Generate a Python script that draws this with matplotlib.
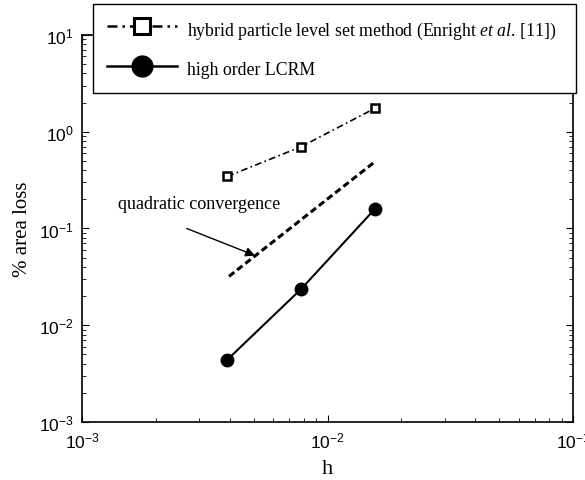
import matplotlib
matplotlib.use('Agg')
import matplotlib.pyplot as plt
from matplotlib.lines import Line2D
from matplotlib.ticker import LogLocator, NullFormatter

# grid spacing h and % area loss
h = [1/256, 1/128, 1/64]
hybrid_loss = [0.345, 0.70, 1.75]
lcrm_loss = [0.0044, 0.0237, 0.160]

# quadratic reference line
quad_h = [0.00397, 0.0156]
quad_loss = [0.032, 0.49]

hybrid_label = 'hybrid particle level set method (Enright $\\it{et\\ al}$. [11])'
lcrm_label = 'high order LCRM'

plt.rcParams['mathtext.default'] = 'regular'
plt.rcParams['mathtext.fontset'] = 'custom'
plt.rcParams['mathtext.it'] = 'Liberation Serif:italic'
plt.rcParams['mathtext.rm'] = 'Liberation Serif'

fig = plt.figure(figsize=(5.85, 4.81), dpi=100)
ax = fig.add_axes([0.1402, 0.1206, 0.8393, 0.8046])

ax.plot(h, hybrid_loss, color='black', lw=1.2, linestyle=(0, (4, 2, 1, 2)),
        marker='s', markersize=6, markerfacecolor='white', markeredgewidth=1.8)
ax.plot(h, lcrm_loss, color='black', lw=1.5, marker='o', markersize=9)
ax.plot(quad_h, quad_loss, color='black', lw=2.2, linestyle=(0, (2.2, 1.2)))

ax.set_xscale('log')
ax.set_yscale('log')
ax.set_xlim(1e-3, 1e-1)
ax.set_ylim(1e-3, 1e1)

ax.text(0.0014, 0.18, 'quadratic convergence', fontsize=13,
        family='Liberation Serif', va='center', ha='left')
ax.annotate('', xy=(0.00507, 0.0525), xytext=(0.00267, 0.1),
            arrowprops=dict(arrowstyle='-|>', color='black', lw=1.0,
                            mutation_scale=14, shrinkA=0, shrinkB=0))

ax.xaxis.set_major_locator(LogLocator(base=10, numticks=10))
ax.yaxis.set_major_locator(LogLocator(base=10, numticks=10))
ax.xaxis.set_minor_locator(LogLocator(base=10, subs=range(2, 10), numticks=20))
ax.yaxis.set_minor_locator(LogLocator(base=10, subs=range(2, 10), numticks=20))
ax.xaxis.set_minor_formatter(NullFormatter())
ax.yaxis.set_minor_formatter(NullFormatter())
ax.tick_params(which='both', direction='in', top=True, right=True)
ax.tick_params(which='major', length=5, width=0.8, labelsize=12.5, pad=6)
ax.tick_params(which='minor', length=3, width=0.6)
for lab in ax.get_xticklabels() + ax.get_yticklabels():
    lab.set_family('Liberation Sans')
for s in ax.spines.values():
    s.set_linewidth(1.2)

ax.set_xlabel('h', family='Liberation Serif', fontsize=16, labelpad=6)
ax.set_ylabel('% area loss', family='Liberation Serif', fontsize=15, labelpad=5)

handles = [
    Line2D([], [], color='black', lw=1.8, linestyle=(0, (4, 2, 1, 2)),
           marker='s', markersize=11, markerfacecolor='white', markeredgewidth=2.2),
    Line2D([], [], color='black', lw=1.8, marker='o', markersize=15),
]
leg = fig.legend(handles, [hybrid_label, lcrm_label],
                 bbox_to_anchor=(0.159, 0.7976, 0.826, 0.192), loc='upper left',
                 mode='expand', prop={'family': 'Liberation Serif', 'size': 12.8},
                 handlelength=3.9, handleheight=1.45, handletextpad=0.6,
                 labelspacing=0.95, borderpad=0.8, borderaxespad=0,
                 fancybox=False, framealpha=1, edgecolor='black')
leg.get_frame().set_linewidth(1.0)

fig.savefig('out.png', dpi=100)
